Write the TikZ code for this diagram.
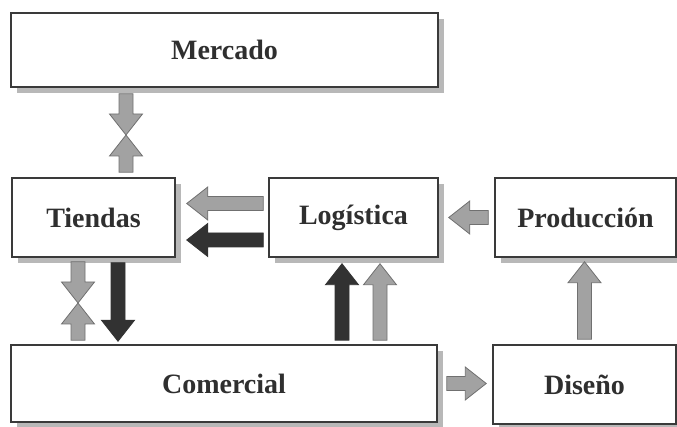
\documentclass[tikz,border=0pt]{standalone}
\usepackage{fontspec}
\setmainfont{Liberation Serif}
\usetikzlibrary{calc,shadows}

\definecolor{boxline}{HTML}{3A3A3A}
\definecolor{boxshadow}{HTML}{B8B8B8}
\definecolor{lightarrow}{HTML}{A2A2A2}
\definecolor{lightedge}{HTML}{707070}
\definecolor{darkarrow}{HTML}{323232}
\definecolor{labelgray}{HTML}{2F2F2F}

\tikzset{
  area/.style={draw=boxline, line width=1.5pt, fill=white, inner sep=0pt,
    font=\fontsize{28}{30}\selectfont\bfseries, text=labelgray,
    drop shadow={shadow xshift=6pt, shadow yshift=-6pt, fill=boxshadow, opacity=1}},
  flow/.style={to path={let \p1=(\tikztostart), \p2=(\tikztotarget),
      \p3=($(\p2)!21pt!(\p1)$) in
      ($(\p1)!7pt!90:(\p2)$) -- ($(\p3)!7pt!90:(\p2)$) -- ($(\p3)!16.5pt!90:(\p2)$)
      -- (\p2) -- ($(\p3)!16.5pt!-90:(\p2)$) -- ($(\p3)!7pt!-90:(\p2)$)
      -- ($(\p1)!7pt!-90:(\p2)$) -- cycle}},
  grayflow/.style={flow, fill=lightarrow, draw=lightedge, line width=0.8pt},
  blackflow/.style={flow, fill=darkarrow, draw=darkarrow, line width=0.8pt}
}

\begin{document}
\begin{tikzpicture}[x=1pt,y=-1pt]
\useasboundingbox (0,0) rectangle (677,427);

\node[area, minimum width=427pt, minimum height=74pt] (merc) at (224.5,50) {Mercado};
\node[area, minimum width=163pt, minimum height=79pt] (tie) at (93.5,217.5) {Tiendas};
\node[area, minimum width=169pt, minimum height=79pt] (log) at (353.5,217.5) {Logística};
\node[area, minimum width=181pt, minimum height=79pt] (prod) at (585.5,217.5) {Producción};
\node[area, minimum width=426pt, minimum height=77pt] (com) at (224,383.5) {Comercial};
\node[area, minimum width=183pt, minimum height=79pt] (dis) at (584.5,384.5) {Diseño};

\coordinate (mt) at (126,135);
\coordinate (tc) at (78,303);

\draw[grayflow] ($(merc.south -| mt)+(0,6)$) to (mt);
\draw[grayflow] ($(tie.north -| mt)+(0,-5)$) to (mt);

\draw[grayflow] ($(log.west)+(-5,-14)$) to ($(tie.east)+(11,-14)$);
\draw[blackflow] ($(log.west)+(-5,22.5)$) to ($(tie.east)+(11,22.5)$);
\draw[grayflow] ($(prod.west)+(-6,0)$) to ($(log.east)+(10,0)$);

\draw[grayflow] ($(tie.south -| tc)+(0,4)$) to (tc);
\draw[grayflow] ($(com.north -| tc)+(0,-4)$) to (tc);
\draw[blackflow] ($(tie.south)+(24.5,5)$) to ($(tie.south |- com.north)+(24.5,-3)$);

\draw[blackflow] ($(log.south |- com.north)+(-11.5,-4)$) to ($(log.south)+(-11.5,6)$);
\draw[grayflow] ($(log.south |- com.north)+(26.5,-4)$) to ($(log.south)+(26.5,6)$);
\draw[grayflow] ($(dis.north)+(0,-5)$) to ($(dis.north |- prod.south)+(0,4)$);
\draw[grayflow] ($(com.east)+(9,0)$) to ($(com.east -| dis.west)+(-6,0)$);
\end{tikzpicture}
\end{document}
